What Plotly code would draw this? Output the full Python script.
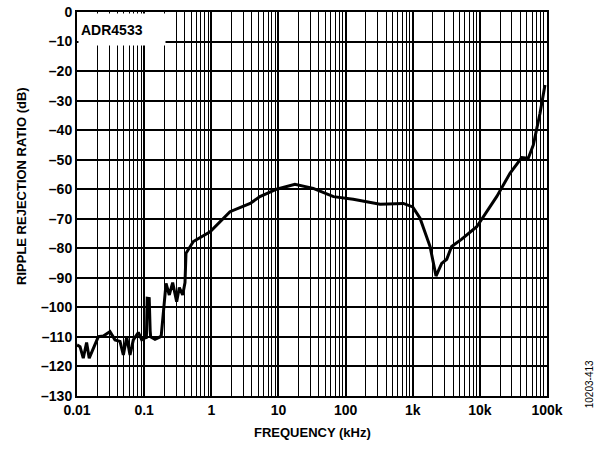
import plotly.graph_objects as go

freq_khz = [0.01, 0.0111, 0.0124, 0.0139, 0.0152, 0.0166, 0.0186, 0.0208, 0.0247, 0.031,
            0.0368, 0.0437, 0.049, 0.055, 0.0616, 0.069, 0.0819, 0.092, 0.103, 0.108,
            0.111, 0.119, 0.123, 0.125, 0.145, 0.172, 0.18, 0.193, 0.212, 0.237, 0.266,
            0.305, 0.334, 0.375, 0.406, 0.42, 0.51, 0.54, 0.96, 1.9, 3.8, 5.3, 9.4,
            17.6, 33, 66, 130, 326, 725, 1000, 1285, 1813, 2224, 2700, 3210, 3800,
            5370, 8980, 17800, 28100, 42000, 52700, 62600, 78700, 93300]
rrr_db = [-112.7, -113.3, -117.2, -111.9, -117.2, -115, -112.7, -109.9, -109.7, -108.2,
          -111, -111.5, -116.1, -110, -116.1, -111, -108.5, -111, -110, -110.5,
          -96.9, -97, -108, -110, -110.8, -110, -109.5, -100.9, -91.9, -95.8, -91.6,
          -98.1, -93.3, -95.8, -91.6, -81.7, -78.3, -77.7, -74.4, -67.6, -64.8, -62.5, -60.0,
          -58.3, -59.7, -62.5, -63.4, -65.1, -64.8, -66, -69.8, -79.4, -89.4, -85.1, -83.7, -79.4,
          -76.9, -72.7, -62.5, -54.6, -49.3, -49.5, -45, -34.3, -24.7]

major_vals = [0.01, 0.1, 1, 10, 100, 1000, 10000, 100000]
major_text = ["0.01", "0.1", "1", "10", "100", "1k", "10k", "100k"]
minor_vals = [m * d for d in major_vals[:-1] for m in range(2, 10)]
y_vals = list(range(-130, 1, 10))
y_text = ["0" if v == 0 else "\u2013" + str(-v) for v in y_vals]

font_bold = "Liberation Sans"

fig = go.Figure()
fig.add_trace(go.Scatter(x=freq_khz, y=rrr_db, mode="lines",
                         line=dict(color="black", width=3), showlegend=False,
                         hoverinfo="skip"))

fig.update_layout(
    width=599, height=453,
    margin=dict(l=77, r=52, t=12, b=57),
    paper_bgcolor="white", plot_bgcolor="white",
    font=dict(family=font_bold, color="black", size=13),
    xaxis=dict(type="log", range=[-2, 5], tickmode="array", tickvals=major_vals,
               ticktext=["<b>%s</b>" % t for t in major_text],
               showgrid=True, gridcolor="black", gridwidth=2,
               showline=True, linecolor="black", linewidth=2, mirror=True,
               ticks="", zeroline=False, automargin=False,
               minor=dict(tickmode="array", tickvals=minor_vals, showgrid=True,
                          gridcolor="black", gridwidth=1, ticks=""),
               tickfont=dict(size=14)),
    yaxis=dict(range=[-130, 0], tickmode="array", tickvals=y_vals,
               ticktext=["<b>%s</b>" % t for t in y_text],
               showgrid=True, gridcolor="black", gridwidth=1.5,
               showline=True, linecolor="black", linewidth=2, mirror=True,
               ticks="", zeroline=False, automargin=False,
               tickfont=dict(size=14)),
    annotations=[
        dict(text="<b>ADR4533</b>", xref="paper", yref="paper", x=0.002, y=0.997,
             xanchor="left", yanchor="top", showarrow=False, bgcolor="white",
             width=82, height=27, align="left", borderpad=2, font=dict(size=14)),
        dict(text="<b>FREQUENCY (kHz)</b>", xref="paper", yref="paper", x=0.5, y=-0.096,
             xanchor="center", yanchor="middle", showarrow=False, font=dict(size=13)),
        dict(text="<b>RIPPLE REJECTION RATIO (dB)</b>", xref="paper", yref="paper",
             x=-0.117, y=0.547, xanchor="center", yanchor="middle", textangle=-90,
             showarrow=False, font=dict(size=13)),
        dict(text="10203-413", xref="paper", yref="paper", x=1.091, y=0.03,
             xanchor="center", yanchor="middle", textangle=-90, showarrow=False,
             font=dict(size=10, family="Liberation Sans")),
    ],
)

fig.write_html("out.html", config={"displayModeBar": False},
               post_script="document.body.style.margin='0';")
